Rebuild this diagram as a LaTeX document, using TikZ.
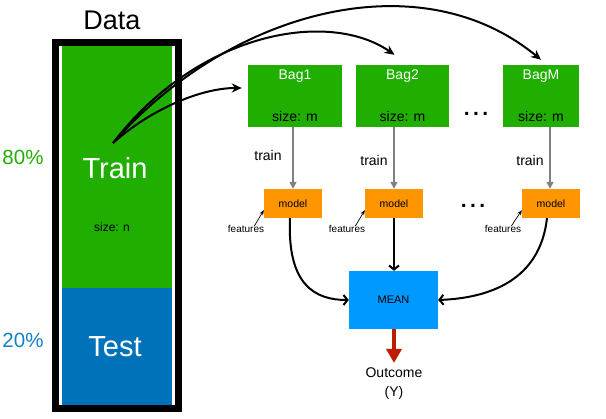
\documentclass[tikz,border=0pt]{standalone}
\usepackage{fontspec}
\setmainfont{Liberation Sans}
\usetikzlibrary{arrows.meta}
\definecolor{bggreen}{RGB}{32,174,0}
\definecolor{testblue}{RGB}{0,114,186}
\definecolor{pctblue}{RGB}{20,128,200}
\definecolor{meanblue}{RGB}{0,153,255}
\definecolor{modelorange}{RGB}{255,149,0}
\definecolor{arrowred}{RGB}{190,30,0}
\definecolor{traingray}{RGB}{128,128,128}
\tikzset{
  bagbox/.style={fill=bggreen, minimum width=93pt, minimum height=62pt, inner sep=0pt},
  modelbox/.style={fill=modelorange, minimum width=58pt, minimum height=29pt, inner sep=0pt, font=\fontsize{10.5}{12}\selectfont},
  bagtitle/.style={text=white, font=\fontsize{14}{16}\selectfont, inner sep=0pt},
  sizelbl/.style={text=black, font=\fontsize{14}{16}\selectfont, inner sep=0pt},
  trainlbl/.style={font=\fontsize{14}{16}\selectfont, inner sep=0pt},
  featlbl/.style={font=\fontsize{10}{12}\selectfont, inner sep=0pt},
  dotslbl/.style={font=\fontsize{21}{22}\selectfont\bfseries, inner sep=0pt},
  bigarrow/.style={line width=2pt, -{Stealth[length=10pt,width=9pt]}},
  meanarrow/.style={line width=2pt, -{Straight Barb[length=4pt,width=10pt,line width=2pt]}},
  grayarrow/.style={traingray, line width=1.4pt, -{Triangle[length=7pt,width=7pt]}},
  featarrow/.style={line width=0.7pt, -{Stealth[length=5pt,width=4pt]}},
}
\begin{document}
\begin{tikzpicture}[x=1pt,y=-1pt]
\useasboundingbox (0,0) rectangle (606,419);
% Data column
\node[font=\fontsize{27}{30}\selectfont, inner sep=0pt] (datalbl) at (112,20) {Data};
\draw[line width=7pt, fill=white] (55.5,43) rectangle (178.5,408.5);
\fill[bggreen] (62,46.5) rectangle (172,288);
\fill[testblue] (62,288) rectangle (172,405);
\node[text=white, font=\fontsize{29}{32}\selectfont, inner sep=0pt] (trainlbl) at (115,168) {Train};
\node[font=\fontsize{12}{14}\selectfont, inner sep=0pt] (sizen) at (112,227) {size: n};
\node[text=white, font=\fontsize{29}{32}\selectfont, inner sep=0pt] (testlbl) at (115,347) {Test};
\node[text=bggreen, font=\fontsize{20.5}{22}\selectfont, inner sep=0pt] (p80) at (23,157) {80\%};
\node[text=pctblue, font=\fontsize{20.5}{22}\selectfont, inner sep=0pt] (p20) at (23,340) {20\%};
\coordinate (src) at (113,143);
% Bags
\node[bagbox, minimum width=94pt] (bag1) at (295,96) {};
\node[bagbox] (bag2) at (402.5,96) {};
\node[bagbox, minimum width=76pt] (bagM) at (541,96) {};
\node[bagtitle] (bag1t) at (295,76) {Bag1};
\node[bagtitle] (bag2t) at (402.5,76) {Bag2};
\node[bagtitle] (bagMt) at (541,76) {BagM};
\node[sizelbl] (bag1s) at (295,117) {size: m};
\node[sizelbl] (bag2s) at (402.5,117) {size: m};
\node[sizelbl] (bagMs) at (541,117) {size: m};
\node[dotslbl] (dots1) at (476,114) {.\,.\,.};
% Models
\node[modelbox] (model1) at (293,203.5) {model};
\node[modelbox] (model2) at (394,203.5) {model};
\node[modelbox] (modelM) at (551,203.5) {model};
\node[dotslbl] (dots2) at (473,206) {.\,.\,.};
% train arrows
\draw[grayarrow] (bag1.south -| model1.north) -- (model1.north);
\draw[grayarrow] (bag2.south -| model2.north) -- (model2.north);
\draw[grayarrow] ([xshift=-1pt]bagM.south -| modelM.north) -- ([xshift=-1pt]modelM.north);
\node[trainlbl] (tr1) at (268,156) {train};
\node[trainlbl] (tr2) at (374,160) {train};
\node[trainlbl] (trM) at (530,160) {train};
% features
\node[featlbl] (feat1) at (246,229) {features};
\node[featlbl] (feat2) at (347,229) {features};
\node[featlbl] (featM) at (503,229) {features};
\draw[featarrow] ([xshift=-10pt,yshift=-1pt]feat1.north east) -- ([yshift=8pt]model1.south west);
\draw[featarrow] ([xshift=-10pt,yshift=-1pt]feat2.north east) -- ([yshift=8pt]model2.south west);
\draw[featarrow] ([xshift=-10pt,yshift=-1pt]featM.north east) -- ([yshift=8pt]modelM.south west);
% MEAN
\node[fill=meanblue, minimum width=89pt, minimum height=58pt, inner sep=0pt, font=\fontsize{11}{13}\selectfont] (mean) at (393.5,300) {MEAN};
\draw[meanarrow] ([xshift=-3pt]model1.south) .. controls (287,285) and (315,300) .. (mean.west);
\draw[meanarrow] (model2.south) -- (mean.north -| model2.south);
\draw[meanarrow] ([xshift=-4pt]modelM.south) .. controls (540,280) and (490,298) .. (mean.east);
% Outcome
\node[align=center, font=\fontsize{14}{19}\selectfont, inner sep=0pt] (outcome) at (394,384) {Outcome\\(Y)};
\draw[arrowred, line width=4pt, -{Triangle[length=14pt,width=15pt]}] (mean.south -| outcome.north) -- ([yshift=5pt]outcome.north);
% data -> bags
\draw[bigarrow] (src) .. controls (150,110) and (200,88) .. ([xshift=-6pt,yshift=8pt]bag1.west);
\draw[bigarrow] (src) .. controls (200,30) and (330,10) .. ([xshift=-8pt,yshift=10pt]bag2.north);
\draw[bigarrow] (src) .. controls (230,10) and (420,-40) .. ([yshift=5pt]bagM.north);
\end{tikzpicture}
\end{document}
